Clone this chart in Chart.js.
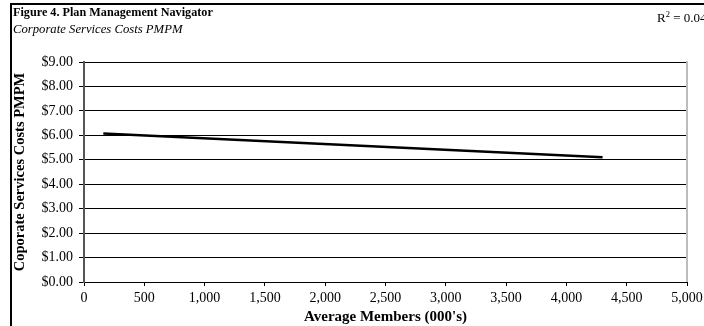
<!DOCTYPE html>
<html>
<head>
<meta charset="utf-8">
<script src="https://cdn.jsdelivr.net/npm/chart.js@4"></script>
<style>
  body { margin: 0; background: #fff; }
  #wrap { position: relative; width: 704px; height: 326px; overflow: hidden; }
  #frame { position: absolute; left: 10px; top: 3px; width: 720px; height: 340px; border: 2px solid #000; box-sizing: border-box; }
  canvas { position: absolute; left: 0; top: 0; }
  .title { position: absolute; left: 13px; top: 5px; font: bold 12.2px "Liberation Serif", serif; }
  .subtitle { position: absolute; left: 13px; top: 22px; font: italic 12.7px "Liberation Serif", serif; }
  .r2 { position: absolute; left: 657px; top: 9px; font: 13px "Liberation Serif", serif; white-space: nowrap; }
  .r2 sup { font-size: 8.5px; }
</style>
</head>
<body>
<div id="wrap">
  <div id="frame"></div>
  <canvas id="chart" width="704" height="326"></canvas>
  <div class="title">Figure 4. Plan Management Navigator</div>
  <div class="subtitle">Corporate Services Costs PMPM</div>
  <div class="r2">R<sup>2</sup> = 0.04</div>
</div>
<script>
// trend line end points
const members = [160, 4300];
const costs = [6.08, 5.10];
const xTicks = [0, 500, 1000, 1500, 2000, 2500, 3000, 3500, 4000, 4500, 5000];
const yTicks = [0, 1, 2, 3, 4, 5, 6, 7, 8, 9];

const serif = '"Liberation Serif", serif';

// gray frame on the right side of the plot
const rightEdge = {
  id: 'rightEdge',
  afterDraw(chart) {
    const { ctx, chartArea } = chart;
    ctx.save();
    ctx.strokeStyle = '#bdbdbd';
    ctx.lineWidth = 2;
    ctx.beginPath();
    ctx.moveTo(chartArea.right, chartArea.top - 1);
    ctx.lineTo(chartArea.right, chartArea.bottom);
    ctx.stroke();
    ctx.restore();
  }
};

new Chart(document.getElementById('chart'), {
  type: 'scatter',
  data: {
    datasets: [{
      data: members.map((m, i) => ({ x: m, y: costs[i] })),
      showLine: true,
      borderColor: '#000',
      borderWidth: 2.5,
      pointRadius: 0
    }]
  },
  options: {
    responsive: false,
    animation: false,
    layout: { padding: { top: 62, right: 17, left: 0, bottom: 0 } },
    plugins: { legend: { display: false }, tooltip: { enabled: false } },
    scales: {
      x: {
        type: 'linear',
        min: 0, max: 5000,
        afterBuildTicks: s => { s.ticks = xTicks.map(v => ({ value: v })); },
        afterFit: s => { s.height = 44; s.paddingRight = 0; },
        ticks: {
          color: '#000',
          font: { family: serif, size: 14 },
          padding: 4,
          maxRotation: 0,
          callback: v => v.toLocaleString('en-US')
        },
        grid: { drawOnChartArea: false, drawTicks: true, tickLength: 4, color: '#000' },
        border: { color: '#000', width: 1 },
        title: {
          display: true,
          text: "Average Members (000's)",
          color: '#000',
          font: { family: serif, size: 15, weight: 'bold' },
          padding: { top: 0, bottom: 0 }
        }
      },
      y: {
        min: 0, max: 9,
        afterBuildTicks: s => { s.ticks = yTicks.map(v => ({ value: v })); },
        afterFit: s => { s.width = 84; },
        ticks: {
          color: '#000',
          font: { family: serif, size: 14 },
          padding: 6,
          callback: v => '$' + v.toFixed(2)
        },
        grid: { color: '#000', lineWidth: 1, tickLength: 5 },
        border: { color: '#555', width: 2 },
        title: {
          display: true,
          text: 'Coporate Services Costs PMPM',
          color: '#000',
          font: { family: serif, size: 14.5, weight: 'bold' },
          padding: { top: 12, bottom: 0 }
        }
      }
    }
  },
  plugins: [rightEdge]
});
</script>
</body>
</html>
